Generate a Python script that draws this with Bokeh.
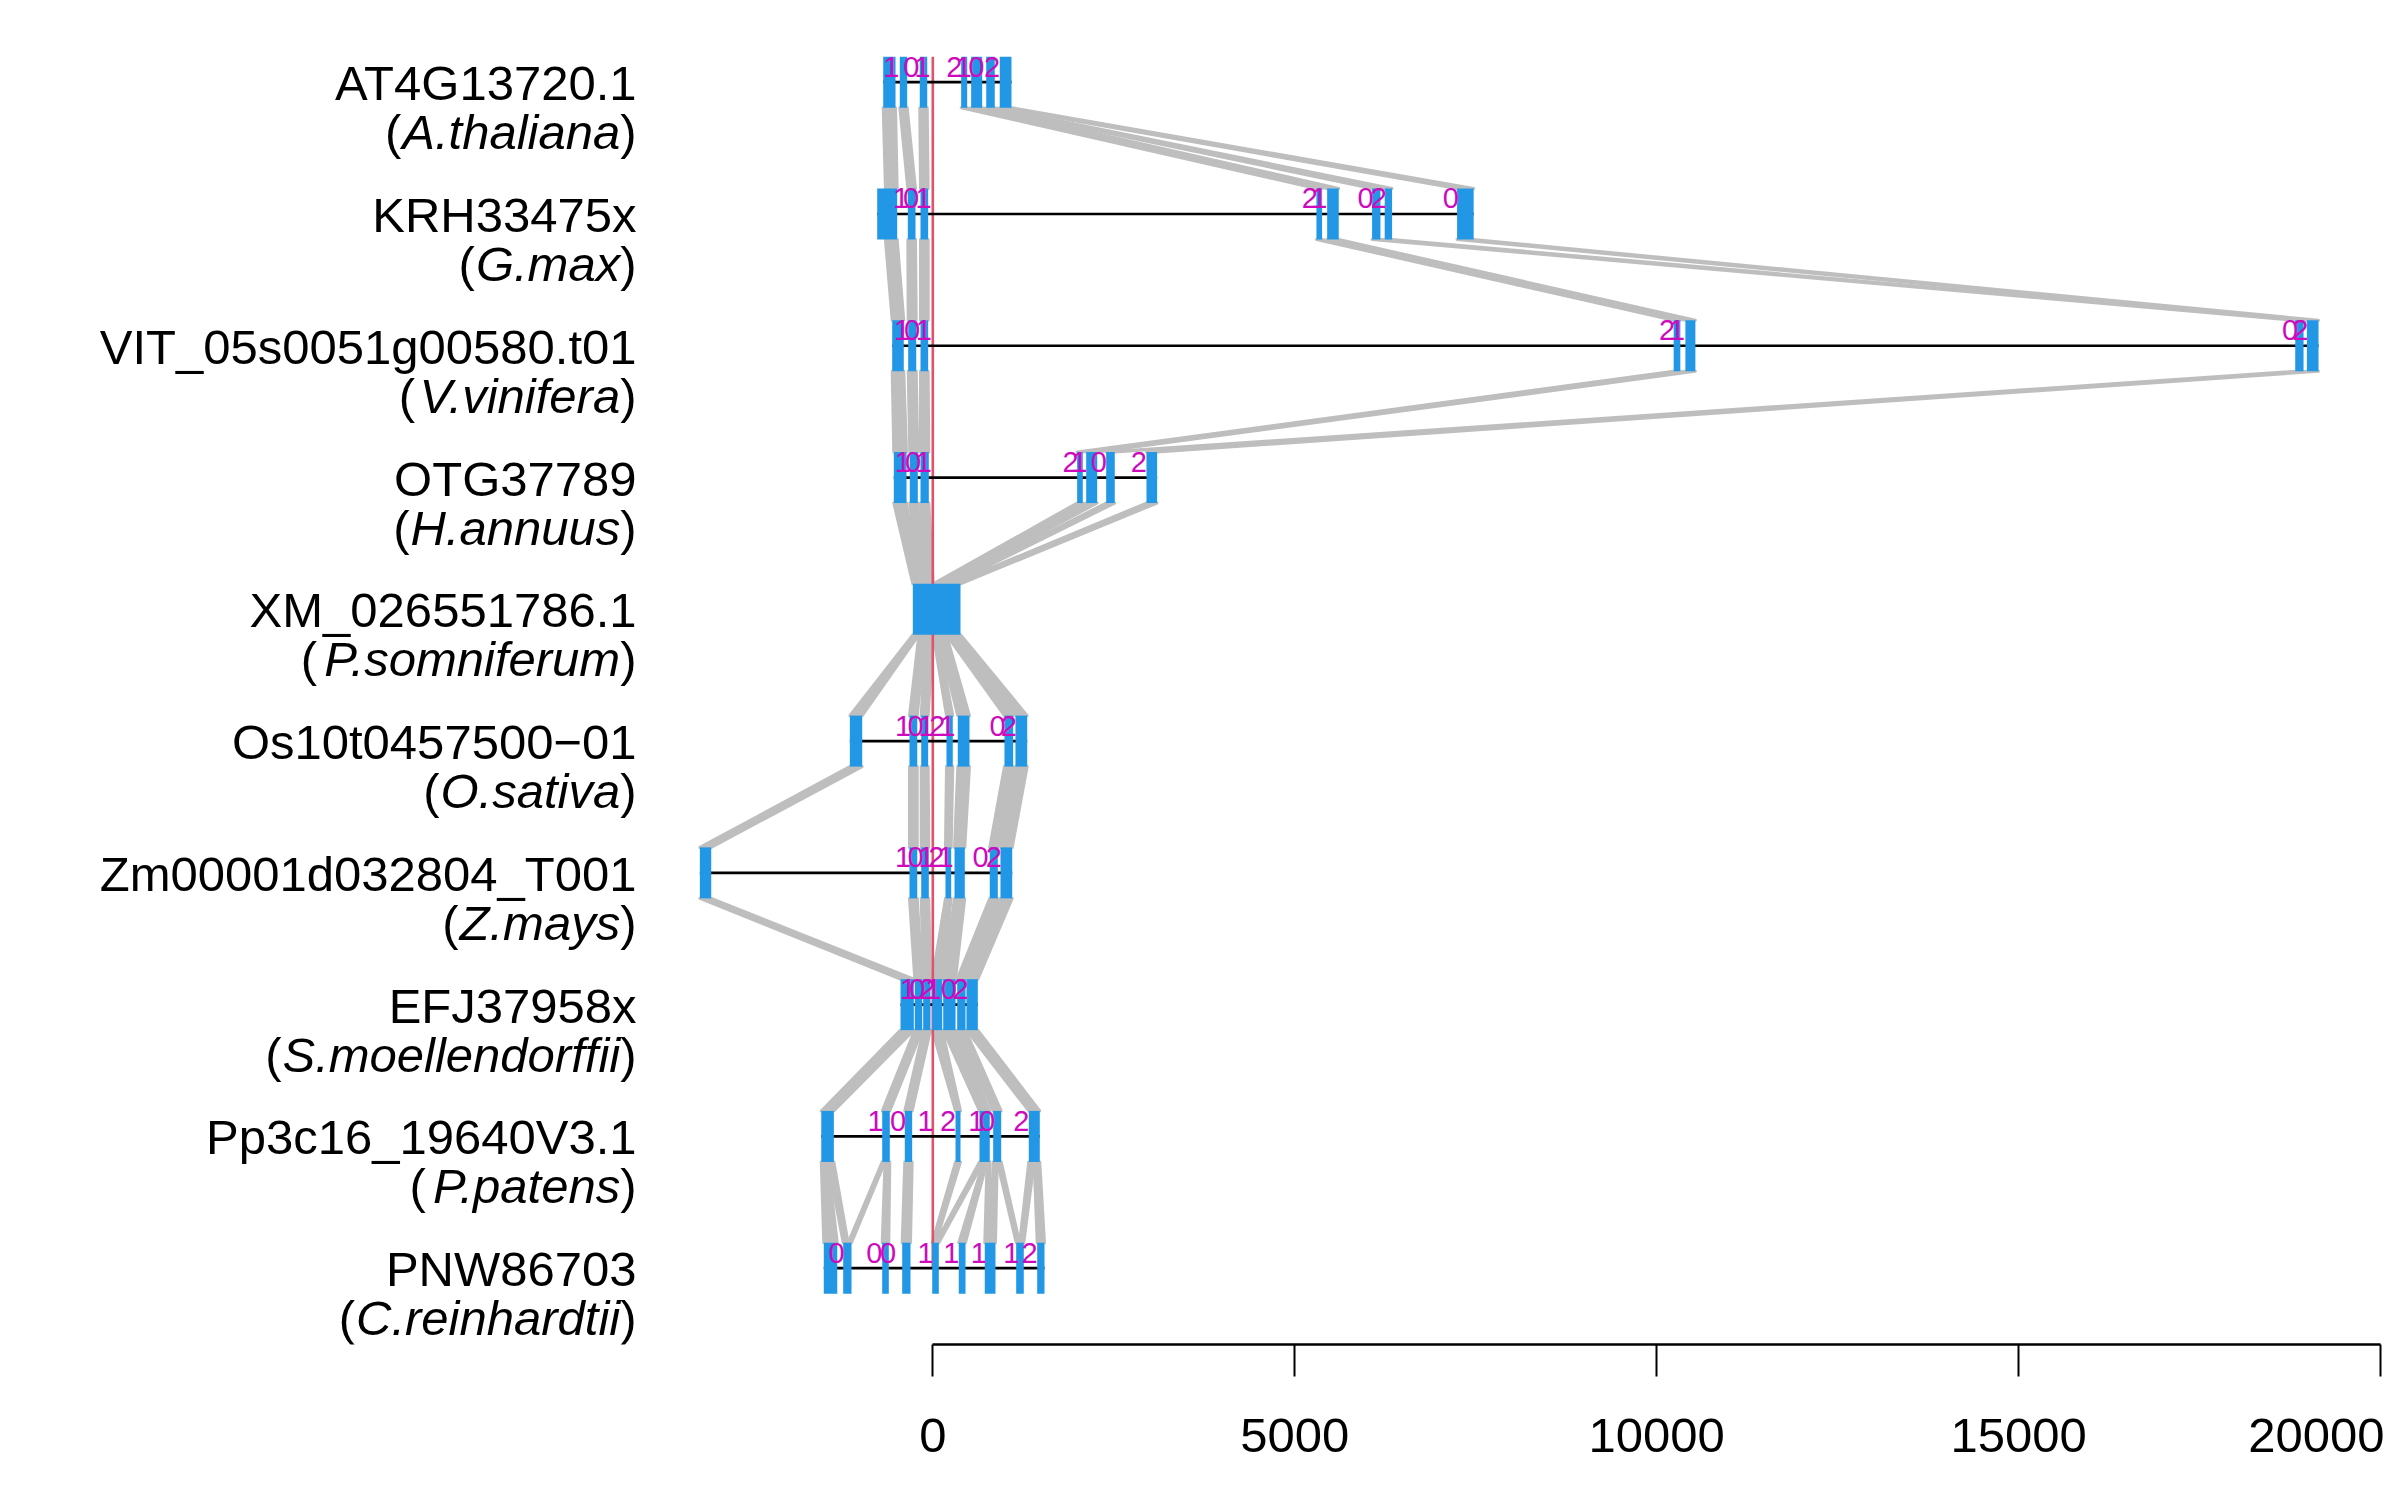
from bokeh.plotting import figure
from bokeh.models import Range1d, LinearAxis, FixedTicker
from bokeh.embed import file_html
from bokeh.resources import INLINE
from bokeh.core.properties import value

# ---------------- data (bp coordinates, aligned so that 0 is the red reference line) ----------------
gene_ids = ["AT4G13720.1", "KRH33475x", "VIT_05s0051g00580.t01", "OTG37789", "XM_026551786.1",
            "Os10t0457500\u221201", "Zm00001d032804_T001", "EFJ37958x", "Pp3c16_19640V3.1", "PNW86703"]
species = ["A.thaliana", "G.max", "V.vinifera", "H.annuus", "P.somniferum",
           "O.sativa", "Z.mays", "S.moellendorffii", "P.patens", "C.reinhardtii"]

exon_starts = [
    [-685, -456, -180, 392, 530, 738, 925],
    [-768, -345, -170, 5300, 5448, 6069, 6243, 7243],
    [-561, -340, -170, 10235, 10397, 18822, 18983],
    [-539, -318, -170, 1994, 2119, 2395, 2952],
    [-276],
    [-1146, -322, -160, 189, 345, 990, 1142],
    [-3218, -322, -160, 175, 300, 787, 935],
    [-446, -249, -133, -8, 144, 337, 465],
    [-1541, -699, -387, 314, 645, 834, 1326],
    [-1506, -1238, -699, -423, -8, 359, 718, 1152, 1442],
]
exon_ends = [
    [-515, -354, -77, 475, 682, 856, 1087],
    [-492, -239, -64, 5378, 5608, 6184, 6345, 7472],
    [-401, -229, -64, 10327, 10535, 18937, 19144],
    [-363, -207, -55, 2072, 2271, 2514, 3099],
    [383],
    [-975, -215, -64, 276, 507, 1110, 1304],
    [-3061, -215, -55, 254, 442, 898, 1097],
    [-262, -146, -32, 130, 314, 452, 622],
    [-1367, -594, -285, 383, 787, 945, 1478],
    [-1320, -1123, -608, -308, 83, 452, 866, 1257, 1543],
]

phase_pos = [
    [-573, -297, -146, 296, 428, 601, 820],
    [-439, -301, -128, 5207, 5338, 5977, 6160, 7155],
    [-423, -285, -124, 10144, 10282, 18749, 18891],
    [-414, -273, -124, 1902, 2029, 2293, 2845],
    [],
    [-412, -239, -90, 61, 199, 894, 1050],
    [-412, -239, -90, 48, 175, 659, 843],
    [-340, -215, -77, 10, 221, 383],
    [-791, -481, -101, 210, 601, 751, 1222],
    [-1330, -809, -619, -101, 256, 635, 1084, 1338],
]
phase_txt = ["1012102", "10121020", "1012102", "1012102", "",
             "1012102", "1012102", "102102", "1012102", "00011112"]

# aligned segments of the single-exon XM_026551786.1 gene
xm_segments = [(-276, -193), (-193, -101), (-101, 6), (6, 69), (69, 189), (189, 268), (268, 383)]

# links between consecutive rows: (upper, lower); int = exon index, tuple = bp sub-range
links = [
    [(0, (-655, -492)), (1, 1), (2, 2), (3, 3), (4, 4), (5, (6069, 6345)), (6, 7)],
    [((-655, -492), 0), (1, 1), (2, 2), (3, 3), (4, 4), ((6069, 6345), 5), (7, 6)],
    [(k, k) for k in range(7)],
    [(k, xm_segments[k]) for k in range(7)],
    [(xm_segments[k], k) for k in range(7)],
    [(k, k) for k in range(7)],
    [(k, k) for k in range(7)],
    [(k, k) for k in range(7)],
    [((-1541, -1450), 0), ((-1450, -1367), (-1238, -1170)), ((-699, -660), (-1170, -1123)),
     ((-660, -594), 2), (2, 3), (3, (-8, 40)), ((645, 700), (40, 83)), ((700, 750), 5),
     ((750, 787), (718, 790)), ((834, 890), (790, 866)), ((890, 945), (1152, 1200)),
     ((1326, 1400), (1200, 1257)), ((1400, 1478), 8)],
]

axis_ticks = [0, 5000, 10000, 15000, 20000]

# ---------------- styling / layout ----------------
EXON = "#2297E6"
LINK = "#BEBEBE"
PHASE = "#CD0BBC"
REF = "#DF536B"
FONT = "Liberation Sans"

W, H = 2384, 1484
ROW_PX = 131.78          # px between rows
FIRST_ROW_PX = 81.7      # px from frame top to first row line
FRAME_H = 1344
HH = 25.5 / ROW_PX       # exon half height in row units
SCALE = 0.072385         # px per bp
ZERO_PX = 932.3          # px from frame left to x = 0

x0 = -ZERO_PX / SCALE
x1 = x0 + W / SCALE
y_top = -FIRST_ROW_PX / ROW_PX
y_bot = y_top + FRAME_H / ROW_PX

p = figure(width=W, height=H, x_range=Range1d(x0, x1), y_range=Range1d(y_bot, y_top),
           output_backend="svg", toolbar_location=None,
           x_axis_location=None, y_axis_location=None,
           min_border_left=0, min_border_right=0, min_border_top=0, min_border_bottom=H - FRAME_H)
p.outline_line_color = None
p.background_fill_color = "white"
p.border_fill_color = "white"
p.grid.visible = False

nrows = len(gene_ids)

def span(row, spec):
    if isinstance(spec, tuple):
        return spec
    return (exon_starts[row][spec], exon_ends[row][spec])

# connectors
pxs, pys = [], []
for r, lst in enumerate(links):
    for up, lo in lst:
        a0, a1 = span(r, up)
        b0, b1 = span(r + 1, lo)
        pxs.append([a0, a1, b1, b0])
        pys.append([r + HH, r + HH, r + 1 - HH, r + 1 - HH])
p.patches(pxs, pys, fill_color=LINK, line_color=LINK, line_width=3, line_join="round")

# reference line
p.segment(x0=[0], y0=[-HH], x1=[0], y1=[nrows - 1], line_color=REF, line_width=2.6)

# intron lines
ls, le, ly = [], [], []
for r in range(nrows):
    if len(exon_starts[r]) > 1:
        ls.append(min(exon_starts[r])); le.append(max(exon_ends[r])); ly.append(r)
p.segment(x0=ls, y0=ly, x1=le, y1=ly, line_color="black", line_width=2.7)

# exons
L, R, T, B = [], [], [], []
for r in range(nrows):
    for s, e in zip(exon_starts[r], exon_ends[r]):
        L.append(s); R.append(e); T.append(r - HH); B.append(r + HH)
p.quad(left=L, right=R, top=T, bottom=B, fill_color=EXON, line_color=None)

# phase labels
tx, ty, tt = [], [], []
for r in range(nrows):
    for pos, ch in zip(phase_pos[r], phase_txt[r]):
        tx.append(pos); ty.append(r - 15.5 / ROW_PX); tt.append(ch)
p.text(x=tx, y=ty, text=tt, text_align="center", text_baseline="alphabetic",
       text_font=value(FONT), text_font_size="29px", text_color=PHASE)

# row labels (gene id + italic species in parentheses)
HELV = {'A': 667, 'B': 667, 'C': 722, 'D': 722, 'E': 667, 'F': 611, 'G': 778, 'H': 722, 'I': 278,
        'J': 500, 'K': 667, 'L': 556, 'M': 833, 'N': 722, 'O': 778, 'P': 667, 'Q': 778, 'R': 722,
        'S': 667, 'T': 611, 'U': 722, 'V': 667, 'W': 944, 'X': 667, 'Y': 667, 'Z': 611,
        'a': 556, 'b': 556, 'c': 500, 'd': 556, 'e': 556, 'f': 278, 'g': 556, 'h': 556, 'i': 222,
        'j': 222, 'k': 500, 'l': 222, 'm': 833, 'n': 556, 'o': 556, 'p': 556, 'q': 556, 'r': 333,
        's': 500, 't': 278, 'u': 556, 'v': 500, 'w': 722, 'x': 500, 'y': 500, 'z': 500,
        '.': 278, '(': 333, ')': 333}
FS = 49
def tw(s):
    return sum(HELV.get(c, 556) for c in s) / 1000.0 * FS

RIGHT = 636  # px from frame left
rows = list(range(nrows))
name_y = [r + 1.0 / ROW_PX for r in rows]
sp_y = [r + 50.0 / ROW_PX for r in rows]
common = dict(text_baseline="alphabetic", text_font=value(FONT), text_font_size=f"{FS}px",
              text_color="black", text_align="right")
p.text(x=[x0] * nrows, y=name_y, text=gene_ids, x_offset=RIGHT, **common)
p.text(x=[x0] * nrows, y=sp_y, text=[")"] * nrows, x_offset=RIGHT, **common)
p.text(x=[x0] * nrows, y=sp_y, text=species, x_offset=[RIGHT - tw(")")] * nrows,
       text_font_style="italic", **common)
p.text(x=[x0] * nrows, y=sp_y, text=["("] * nrows,
       x_offset=[RIGHT - tw(")") - tw(s) - 1 for s in species], **common)

# bottom axis
ax = LinearAxis(bounds=(0, 20000), ticker=FixedTicker(ticks=axis_ticks))
ax.axis_line_width = 2.6
ax.axis_line_color = "black"
ax.major_tick_line_width = 2
ax.major_tick_out = 32
ax.major_tick_in = 0
ax.minor_tick_line_color = None
ax.major_label_standoff = 42
ax.major_label_text_font = FONT
ax.major_label_text_font_size = "49px"
ax.major_label_text_color = "black"
p.add_layout(ax, "below")

open("out.html", "w").write(file_html(p, INLINE))
